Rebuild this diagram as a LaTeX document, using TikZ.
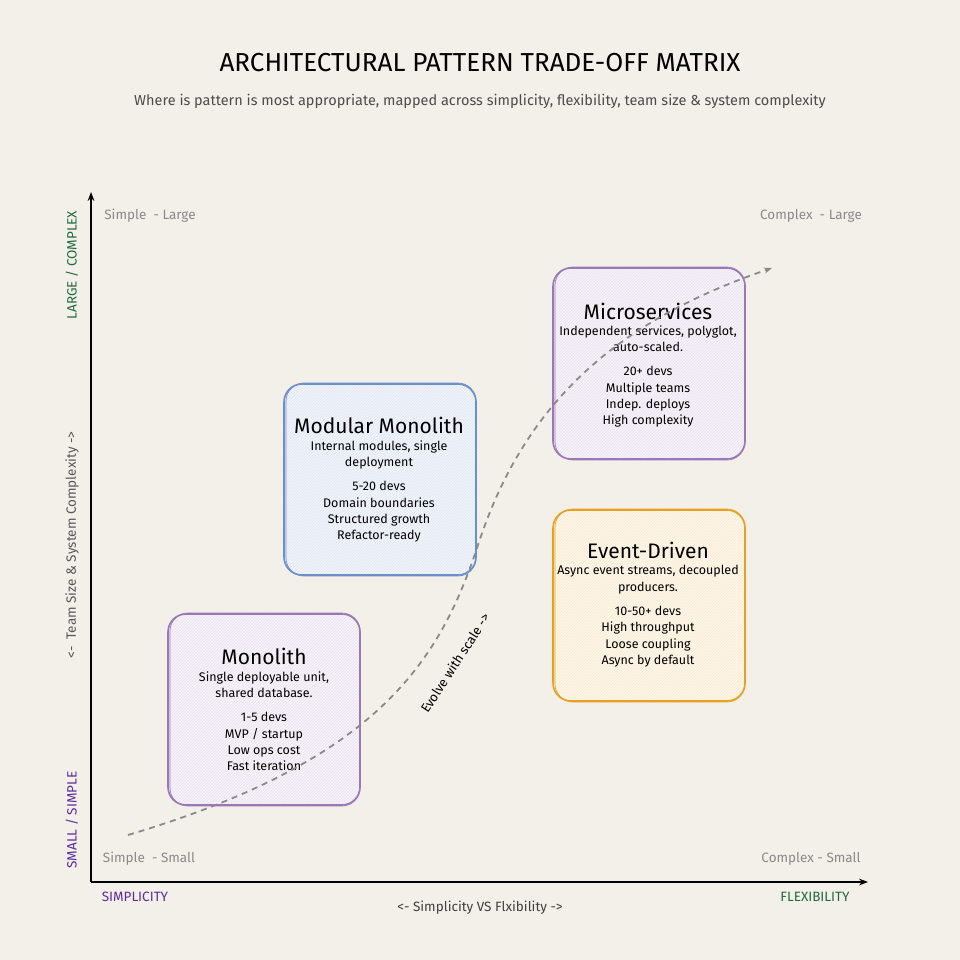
\documentclass[tikz,border=0pt]{standalone}
\usepackage{fontspec}
\setmainfont{Fira Sans}
\usetikzlibrary{patterns,arrows.meta}
\definecolor{bg}{HTML}{F3EFE9}
\definecolor{pur}{HTML}{9A78B8}
\definecolor{blu}{HTML}{6A8FCB}
\definecolor{org}{HTML}{E8A11E}
\definecolor{grn}{HTML}{1E6B3C}
\definecolor{dpur}{HTML}{5A2CA0}
\definecolor{gr}{HTML}{8A8A8A}
\begin{document}
\begin{tikzpicture}[x=1pt,y=-1pt,
 ttl/.style={font=\fontsize{21}{24}\selectfont,align=center},
 txt/.style={font=\fontsize{12.5}{16.3}\selectfont,align=center},
 corner/.style={font=\fontsize{13.5}{15}\selectfont,text=gr},
 axl/.style={font=\fontsize{13.5}{15}\selectfont}]
\fill[bg] (0,0) rectangle (960,960);
\useasboundingbox (0,0) rectangle (960,960);
\node[font=\fontsize{26}{29}\selectfont] (title) at (480,63) {ARCHITECTURAL PATTERN TRADE-OFF MATRIX};
\node[font=\fontsize{14.5}{17}\selectfont,text=black!70] (sub) at (480,101) {Where is pattern is most appropriate, mapped across simplicity, flexibility, team size \& system complexity};
% axes
\coordinate (o) at (91,882); \coordinate (yt) at (91,192); \coordinate (xt) at (868,882);
\draw[line width=1.5pt,-{Stealth[length=9pt]}] (o) -- (yt);
\draw[line width=1.5pt,-{Stealth[length=9pt]}] (o) -- (xt);
\node[axl,text=grn,rotate=90] (lc) at (72,265) {LARGE / COMPLEX};
\node[axl,text=dpur,rotate=90] (ss) at (72,820) {SMALL / SIMPLE};
\node[axl,text=black!65,rotate=90] (ya) at (72,545) {<-\ \ Team Size \& System Complexity ->};
\node[axl,text=dpur] (si) at (135,897) {SIMPLICITY};
\node[axl,text=grn] (fl) at (815,897) {FLEXIBILITY};
\node[axl,text=black!75] (xa) at (480,908) {<- Simplicity VS Flxibility ->};
\node[corner] (c1) at (150,216) {Simple\ \ - Large};
\node[corner] (c2) at (811,216) {Complex\ \ - Large};
\node[corner] (c3) at (149,859) {Simple\ \ - Small};
\node[corner] (c4) at (811,859) {Complex - Small};
% boxes
\foreach \n/\c/\x/\y in {mono/pur/168/614, mod/blu/284/384, micro/pur/553/268, ev/org/553/510}{
  \fill[\c!9,rounded corners=18pt] (\x,\y) rectangle ++(192,191);
  \path[pattern=north east lines,pattern color=\c!22,rounded corners=18pt] (\x,\y) rectangle ++(192,191);
  \draw[\c,line width=1.6pt,rounded corners=18pt] (\x,\y) rectangle ++(192,191);
  \draw[\c,line width=0.7pt,rounded corners=18pt] (\x+2,\y-1) rectangle ++(190,193);
}
\node[ttl] (t1) at (264,656) {Monolith};
\node[txt,anchor=north] (b1) at (264,668) {Single deployable unit,\\shared database.\\[8pt]1-5 devs\\MVP / startup\\Low ops cost\\Fast iteration};
\node[ttl] (t2) at (379,425) {Modular Monolith};
\node[txt,anchor=north] (b2) at (379,437) {Internal modules, single\\deployment\\[8pt]5-20 devs\\Domain boundaries\\Structured growth\\Refactor-ready};
\node[ttl] (t3) at (648,311) {Microservices};
\node[txt,anchor=north] (b3) at (648,322) {Independent services, polyglot,\\auto-scaled.\\[8pt]20+ devs\\Multiple teams\\Indep. deploys\\High complexity};
\node[ttl] (t4) at (648,550) {Event-Driven};
\node[txt,anchor=north] (b4) at (648,562) {Async event streams, decoupled\\producers.\\[8pt]10-50+ devs\\High throughput\\Loose coupling\\Async by default};
% evolve curve
\coordinate (s) at (128,835); \coordinate (m) at (478,545); \coordinate (e) at (772,268);
\draw[gr,line width=1.8pt,dash pattern=on 6pt off 5pt,-{Stealth[length=8pt]}] (s) .. controls (380,760) and (440,660) .. (m) .. controls (525,400) and (620,320) .. (e);
\node[font=\fontsize{13}{15}\selectfont,rotate=57] (ev) at (455,663) {Evolve with scale ->};
\end{tikzpicture}
\end{document}
